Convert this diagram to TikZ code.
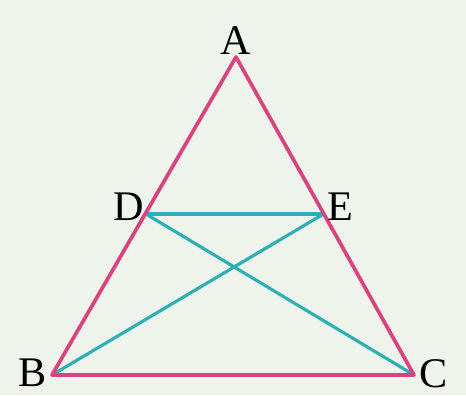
\documentclass[tikz,border=0pt]{standalone}
\usepackage{fontspec}
\setmainfont{Liberation Serif}
\definecolor{bgcol}{HTML}{EEF3EC}
\definecolor{sidecol}{HTML}{D8447E}
\definecolor{linecol}{HTML}{2DB0B5}
\begin{document}
\begin{tikzpicture}[scale=1, transform shape,
    side/.style={draw=sidecol, line width=2.1pt, line join=round},
    seg/.style={draw=linecol, line width=1.8pt},
    lbl/.style={font=\fontsize{24}{27}\selectfont, inner sep=1pt}]
    % Background and frame
    \fill[bgcol] (0,0) rectangle (9.32,7.9);
    \useasboundingbox (0,0) rectangle (9.32,7.9);

    % Define the points of the triangle
    \coordinate (A) at (4.72,6.76);
    \coordinate (B) at (1.04,0.4);
    \coordinate (C) at (8.28,0.4);
    \coordinate (D) at (2.92,3.62);
    \coordinate (E) at (6.47,3.62);

    % Draw the inner lines
    \draw[seg] (D) -- (E);
    \draw[seg] (D) -- (C);
    \draw[seg] (E) -- (B);

    % Draw the triangle
    \draw[side] (A) -- (B) -- (C) -- cycle;

    % Place the labels
    \node (labA) at (A) [above=0pt, lbl] {A};
    \node (labB) at (B) [left=2pt, yshift=1pt, lbl] {B};
    \node (labC) at (C) [right=2pt, yshift=1pt, lbl] {C};
    \node (labD) at (D) [left=0pt, yshift=4pt, lbl] {D};
    \node (labE) at (E) [right=1pt, yshift=4pt, lbl] {E};

\end{tikzpicture}
\end{document}
